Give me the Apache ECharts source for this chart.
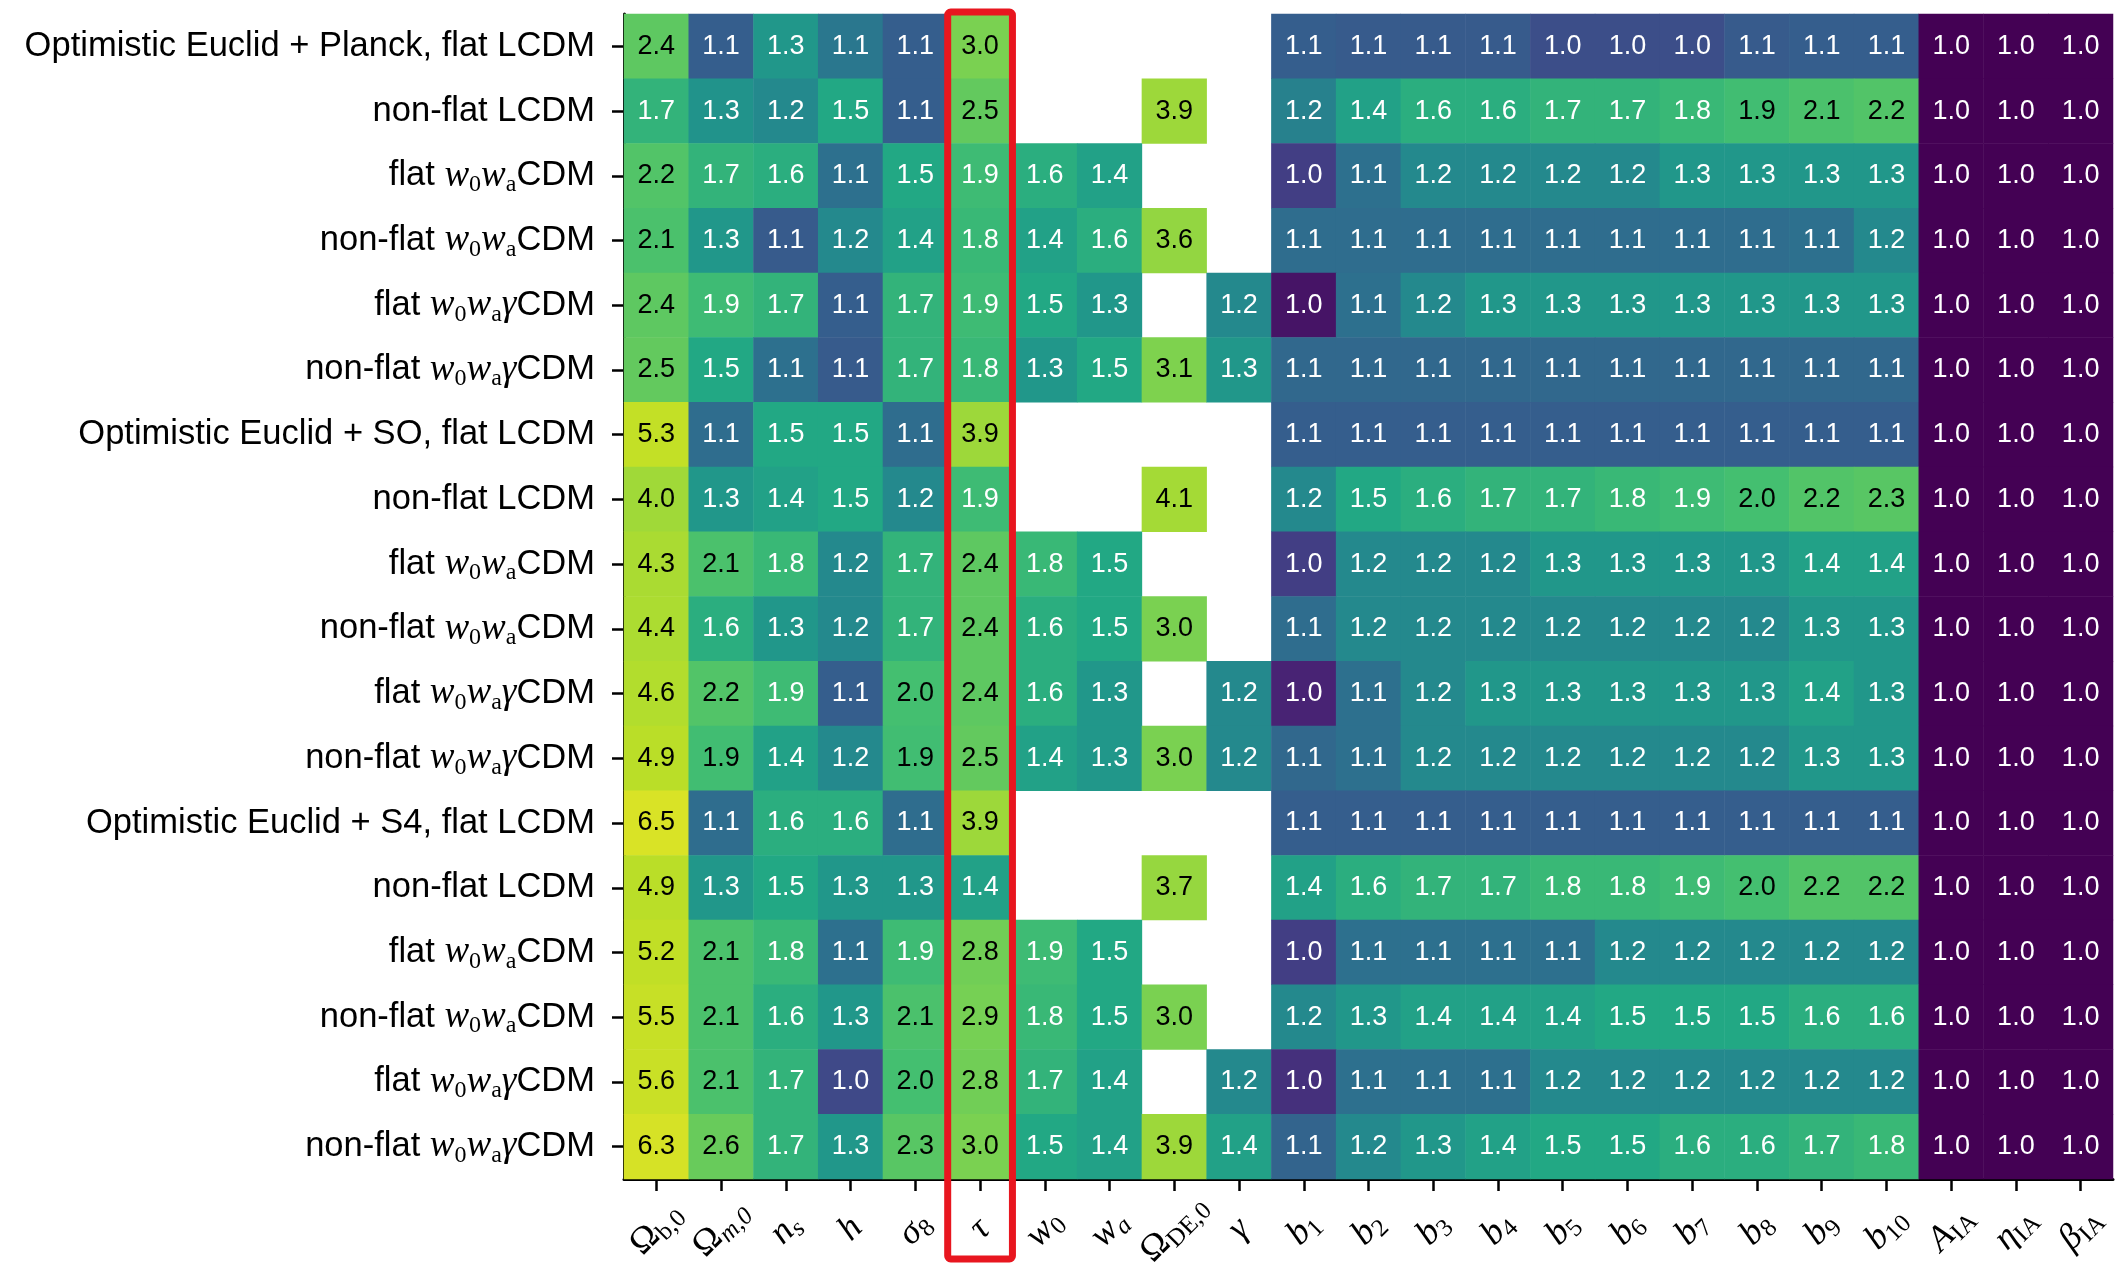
<!DOCTYPE html>
<html><head><meta charset="utf-8">
<script src="https://cdn.jsdelivr.net/npm/echarts@6/dist/echarts.min.js"></script>
<style>html,body{margin:0;padding:0;background:#fff}#c{width:2117px;height:1279px}</style>
</head><body><div id="c"></div>
<script>
// ---- categories ----
const rowLabels = [
  'Optimistic Euclid + Planck, flat LCDM', 'non-flat LCDM', 'flat w_0w_aCDM', 'non-flat w_0w_aCDM', 'flat w_0w_aγCDM', 'non-flat w_0w_aγCDM',
  'Optimistic Euclid + SO, flat LCDM', 'non-flat LCDM', 'flat w_0w_aCDM', 'non-flat w_0w_aCDM', 'flat w_0w_aγCDM', 'non-flat w_0w_aγCDM',
  'Optimistic Euclid + S4, flat LCDM', 'non-flat LCDM', 'flat w_0w_aCDM', 'non-flat w_0w_aCDM', 'flat w_0w_aγCDM', 'non-flat w_0w_aγCDM'
];
const colLabels = ['Ω_b,0','Ω_m,0','n_s','h','σ_8','τ','w_0','w_a','Ω_DE,0','γ',
  'b_1','b_2','b_3','b_4','b_5','b_6','b_7','b_8','b_9','b_10','A_IA','η_IA','β_IA'];

// ---- values (null = not a parameter of that model) ----
const planckFlatLCDM     = [2.4, 1.06, 1.3, 1.12, 1.06, 3.0, null, null, null, null, 1.06, 1.055, 1.055, 1.055, 1.04, 1.04, 1.04, 1.055, 1.06, 1.06, 1.0, 1.0, 1.0];
const planckNonFlatLCDM  = [1.7, 1.26, 1.2, 1.5, 1.06, 2.5, null, null, 3.9, null, 1.16, 1.4, 1.6, 1.6, 1.7, 1.7, 1.8, 1.94, 2.1, 2.2, 1.0, 1.0, 1.0];
const planckFlatW0Wa     = [2.2, 1.7, 1.6, 1.1, 1.5, 1.88, 1.6, 1.4, null, null, 1.027, 1.1, 1.2, 1.2, 1.2, 1.2, 1.3, 1.3, 1.3, 1.3, 1.0, 1.0, 1.0];
const planckNonFlatW0Wa  = [2.1, 1.3, 1.055, 1.2, 1.4, 1.8, 1.4, 1.6, 3.6, null, 1.09, 1.09, 1.09, 1.09, 1.09, 1.09, 1.09, 1.09, 1.1, 1.2, 1.0, 1.0, 1.0];
const planckFlatW0WaG    = [2.4, 1.88, 1.7, 1.06, 1.7, 1.88, 1.5, 1.3, null, 1.2, 1.011, 1.1, 1.2, 1.3, 1.3, 1.3, 1.3, 1.3, 1.3, 1.3, 1.0, 1.0, 1.0];
const planckNonFlatW0WaG = [2.5, 1.5, 1.1, 1.055, 1.7, 1.8, 1.3, 1.5, 3.1, 1.3, 1.08, 1.08, 1.08, 1.08, 1.08, 1.08, 1.08, 1.08, 1.08, 1.08, 1.0, 1.0, 1.0];
const soFlatLCDM         = [5.3, 1.09, 1.5, 1.5, 1.09, 3.9, null, null, null, null, 1.06, 1.06, 1.06, 1.06, 1.06, 1.06, 1.06, 1.06, 1.06, 1.06, 1.0, 1.0, 1.0];
const soNonFlatLCDM      = [4.0, 1.3, 1.4, 1.5, 1.2, 1.88, null, null, 4.1, null, 1.2, 1.5, 1.6, 1.7, 1.7, 1.8, 1.88, 2.0, 2.2, 2.3, 1.0, 1.0, 1.0];
const soFlatW0Wa         = [4.3, 2.1, 1.8, 1.2, 1.7, 2.4, 1.8, 1.5, null, null, 1.027, 1.2, 1.2, 1.2, 1.3, 1.3, 1.3, 1.3, 1.4, 1.4, 1.0, 1.0, 1.0];
const soNonFlatW0Wa      = [4.4, 1.6, 1.3, 1.2, 1.7, 2.4, 1.6, 1.5, 3.0, null, 1.09, 1.2, 1.2, 1.2, 1.2, 1.2, 1.2, 1.2, 1.3, 1.3, 1.0, 1.0, 1.0];
const soFlatW0WaG        = [4.6, 2.2, 1.88, 1.06, 2.0, 2.4, 1.6, 1.3, null, 1.2, 1.015, 1.1, 1.2, 1.3, 1.3, 1.3, 1.3, 1.3, 1.4, 1.3, 1.0, 1.0, 1.0];
const soNonFlatW0WaG     = [4.9, 1.94, 1.4, 1.2, 1.94, 2.5, 1.4, 1.3, 3.0, 1.2, 1.08, 1.1, 1.2, 1.2, 1.2, 1.2, 1.2, 1.2, 1.3, 1.3, 1.0, 1.0, 1.0];
const s4FlatLCDM         = [6.5, 1.09, 1.6, 1.6, 1.09, 3.9, null, null, null, null, 1.06, 1.06, 1.06, 1.06, 1.06, 1.06, 1.06, 1.06, 1.06, 1.06, 1.0, 1.0, 1.0];
const s4NonFlatLCDM      = [4.9, 1.3, 1.5, 1.3, 1.3, 1.4, null, null, 3.7, null, 1.4, 1.6, 1.7, 1.7, 1.8, 1.8, 1.88, 2.0, 2.2, 2.2, 1.0, 1.0, 1.0];
const s4FlatW0Wa         = [5.2, 2.1, 1.8, 1.1, 1.88, 2.8, 1.88, 1.5, null, null, 1.027, 1.1, 1.1, 1.1, 1.1, 1.2, 1.2, 1.2, 1.2, 1.2, 1.0, 1.0, 1.0];
const s4NonFlatW0Wa      = [5.5, 2.1, 1.6, 1.3, 2.1, 2.9, 1.8, 1.5, 3.0, null, 1.2, 1.3, 1.4, 1.4, 1.4, 1.5, 1.5, 1.5, 1.6, 1.6, 1.0, 1.0, 1.0];
const s4FlatW0WaG        = [5.6, 2.1, 1.7, 1.035, 2.0, 2.8, 1.7, 1.4, null, 1.2, 1.02, 1.1, 1.1, 1.1, 1.2, 1.2, 1.2, 1.2, 1.2, 1.2, 1.0, 1.0, 1.0];
const s4NonFlatW0WaG     = [6.3, 2.6, 1.7, 1.3, 2.3, 3.0, 1.5, 1.4, 3.9, 1.4, 1.07, 1.2, 1.3, 1.4, 1.5, 1.5, 1.6, 1.6, 1.7, 1.8, 1.0, 1.0, 1.0];

const rows = [planckFlatLCDM, planckNonFlatLCDM, planckFlatW0Wa, planckNonFlatW0Wa, planckFlatW0WaG, planckNonFlatW0WaG,
  soFlatLCDM, soNonFlatLCDM, soFlatW0Wa, soNonFlatW0Wa, soFlatW0WaG, soNonFlatW0WaG,
  s4FlatLCDM, s4NonFlatLCDM, s4FlatW0Wa, s4NonFlatW0Wa, s4FlatW0WaG, s4NonFlatW0WaG];

// ---- colour scale (log of value-1) ----
const U_MIN = -2.12, U_MAX = 0.909;
const viridis = ['#440154','#482475','#414487','#355f8d','#2a788e','#21918c','#22a884','#44bf70','#7ad151','#bddf26','#fde725'];
function colourCoord(v) {
  const u = Math.log10(Math.max(v - 1, 1e-5));
  return Math.min(U_MAX, Math.max(U_MIN, u));
}

const data = [];
rows.forEach((r, yi) => r.forEach((v, xi) => {
  if (v === null) return;
  data.push({ value: [xi, yi, v, colourCoord(v)], label: { color: v >= 1.93 ? '#000000' : '#ffffff' } });
}));

function richRow(s) {
  let out = '', buf = '', i = 0;
  const flush = () => { if (buf) { out += '{n|' + buf + '}'; buf = ''; } };
  while (i < s.length) {
    if (s[i] === 'w' && s[i + 1] === '_') { flush(); out += '{i|w}{s|' + s[i + 2] + '}'; i += 3; }
    else if (s[i] === 'γ') { flush(); out += '{i|γ}'; i++; }
    else { buf += s[i]; i++; }
  }
  flush();
  return out;
}
const italicSubs = new Set(['m,0', 's', 'a']);
function richCol(s) {
  const p = s.split('_');
  const main = p[0] === 'Ω' ? '{u|Ω}' : '{m|' + p[0] + '}';
  if (p.length < 2) return main;
  return main + (italicSubs.has(p[1]) ? '{si|' + p[1] + '}' : '{su|' + p[1] + '}');
}

const chart = echarts.init(document.getElementById('c'), null, { renderer: 'canvas' });
const option = {
  backgroundColor: '#ffffff',
  animation: false,
  grid: { left: 624, top: 14, width: 1489, height: 1165, containLabel: false, outerBoundsMode: 'none' },
  xAxis: {
    type: 'category', data: colLabels, position: 'bottom',
    axisLine: { show: true, lineStyle: { color: '#000', width: 3 } },
    axisTick: { show: true, alignWithLabel: true, length: 12, lineStyle: { color: '#000', width: 2.5 } },
    splitLine: { show: false },
    axisLabel: {
      interval: 0, rotate: 45, margin: 50, align: 'center', verticalAlign: 'middle',
      formatter: richCol,
      rich: {
        m: { fontFamily: 'Liberation Serif', fontStyle: 'italic', fontSize: 36, lineHeight: 42, verticalAlign: 'middle', color: '#000' },
        u: { fontFamily: 'Liberation Serif', fontSize: 36, lineHeight: 42, verticalAlign: 'middle', color: '#000' },
        si: { fontFamily: 'Liberation Serif', fontStyle: 'italic', fontSize: 25, lineHeight: 25, verticalAlign: 'bottom', color: '#000' },
        su: { fontFamily: 'Liberation Serif', fontSize: 25, lineHeight: 25, verticalAlign: 'bottom', color: '#000' }
      }
    }
  },
  yAxis: {
    type: 'category', data: rowLabels, inverse: true,
    axisLine: { show: true, lineStyle: { color: '#000', width: 3 } },
    axisTick: { show: true, alignWithLabel: true, length: 12, lineStyle: { color: '#000', width: 2.5 } },
    splitLine: { show: false },
    axisLabel: {
      interval: 0, margin: 29,
      formatter: richRow,
      rich: {
        n: { fontFamily: 'Liberation Sans', fontSize: 34.5, lineHeight: 42, verticalAlign: 'middle', color: '#000' },
        i: { fontFamily: 'Liberation Serif', fontStyle: 'italic', fontSize: 37, lineHeight: 42, verticalAlign: 'middle', color: '#000' },
        s: { fontFamily: 'Liberation Serif', fontSize: 24, lineHeight: 24, verticalAlign: 'bottom', color: '#000' }
      }
    }
  },
  visualMap: {
    type: 'continuous', show: false, dimension: 3, min: U_MIN, max: U_MAX,
    inRange: { color: viridis }
  },
  series: [{
    type: 'heatmap', data: data,
    itemStyle: { borderWidth: 0 },
    emphasis: { disabled: true },
    label: {
      show: true, fontFamily: 'Liberation Sans', fontSize: 27,
      formatter: p => p.value[2].toFixed(1)
    }
  }]
};
chart.setOption(option);

// red highlight box around the τ column
const c5 = chart.convertToPixel({ xAxisIndex: 0 }, 5);
const c6 = chart.convertToPixel({ xAxisIndex: 0 }, 6);
const bw = c6 - c5;
const y0 = chart.convertToPixel({ yAxisIndex: 0 }, 0);
const y1 = chart.convertToPixel({ yAxisIndex: 0 }, 1);
const bh = y1 - y0;
const boxTop = y0 - bh / 2 - 2;
const boxBottom = y0 + (rows.length - 0.5) * bh + 80;
chart.setOption({
  graphic: [{
    type: 'rect', z: 100,
    shape: { x: c5 - bw / 2, y: boxTop, width: bw, height: boxBottom - boxTop, r: 3 },
    style: { fill: 'none', stroke: '#e8161f', lineWidth: 7 }
  }]
});
</script></body></html>
